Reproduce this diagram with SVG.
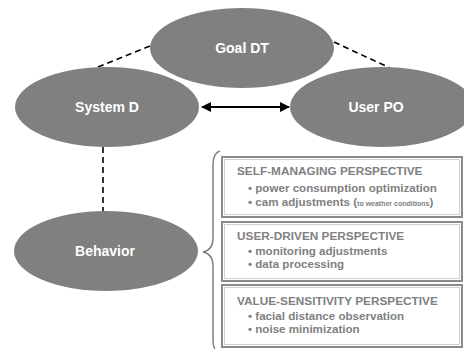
<svg xmlns="http://www.w3.org/2000/svg" width="464" height="349" viewBox="0 0 464 349">
<defs>
<style>
.node{fill:#808080;}
.nt{font-family:"Liberation Sans",Arial,sans-serif;font-weight:bold;font-size:14px;fill:#ffffff;text-anchor:middle;}
.dash{stroke:#000;stroke-width:1.6;stroke-dasharray:6,4;fill:none;}
.box{fill:#fff;stroke:#8a8a8a;stroke-width:2;}
.inner{fill:none;stroke:#d0d0d0;stroke-width:1;}
.ht{font-family:"Liberation Sans",Arial,sans-serif;font-weight:bold;font-size:11.8px;fill:#808080;}
.bt{font-family:"Liberation Sans",Arial,sans-serif;font-weight:bold;font-size:11.6px;fill:#808080;}
.sm{font-size:7px;}
.brace{fill:none;stroke:#808080;stroke-width:1.5;}
</style>
<marker id="ah" viewBox="0 0 10 10" refX="9" refY="5" markerWidth="5" markerHeight="5" orient="auto-start-reverse">
<path d="M0,0 L10,5 L0,10 z" fill="#000"/>
</marker>
</defs>
<rect width="464" height="349" fill="#fff"/>
<g id="connectors">
<line class="dash" x1="98" y1="67" x2="150" y2="46"/>
<line class="dash" x1="334" y1="42" x2="390" y2="68"/>
<line class="dash" x1="103" y1="147" x2="103" y2="211"/>
<line x1="202" y1="107" x2="289" y2="107" stroke="#000" stroke-width="2" marker-start="url(#ah)" marker-end="url(#ah)"/>
</g>
<g id="goal-dt">
<ellipse class="node" cx="242" cy="48" rx="92" ry="40"/>
<text class="nt" x="242" y="53">Goal DT</text>
</g>
<g id="system-d">
<ellipse class="node" cx="107" cy="107" rx="92" ry="40"/>
<text class="nt" x="107" y="112">System D</text>
</g>
<g id="user-po">
<ellipse class="node" cx="382" cy="107" rx="92" ry="40"/>
<text class="nt" x="376" y="112">User PO</text>
</g>
<g id="behavior">
<ellipse class="node" cx="106" cy="251" rx="92" ry="40"/>
<text class="nt" x="105" y="256">Behavior</text>
</g>
<g id="brace">
<path class="brace" d="M220,151 Q213,153 213,165 L213,238 Q213,250 203,252 Q213,254 213,266 L213,338 Q213,347 215,349"/>
</g>
<g id="self-managing">
<rect class="box" x="222" y="157" width="240" height="60"/>
<rect class="inner" x="224.5" y="159.5" width="235" height="55"/>
<text class="ht" x="237" y="175">SELF-MANAGING PERSPECTIVE</text>
<text class="bt" x="248" y="192">• power consumption optimization</text>
<text class="bt" x="248" y="206">• cam adjustments (<tspan class="sm">to weather conditions</tspan>)</text>
</g>
<g id="user-driven">
<rect class="box" x="222" y="222" width="240" height="59"/>
<rect class="inner" x="224.5" y="224.5" width="235" height="54"/>
<text class="ht" x="237" y="240">USER-DRIVEN PERSPECTIVE</text>
<text class="bt" x="248" y="255">• monitoring adjustments</text>
<text class="bt" x="248" y="268">• data processing</text>
</g>
<g id="value-sensitivity">
<rect class="box" x="222" y="285" width="240" height="62"/>
<rect class="inner" x="224.5" y="287.5" width="235" height="57"/>
<text class="ht" x="237" y="305">VALUE-SENSITIVITY PERSPECTIVE</text>
<text class="bt" x="248" y="320">• facial distance observation</text>
<text class="bt" x="248" y="333">• noise minimization</text>
</g>
</svg>
